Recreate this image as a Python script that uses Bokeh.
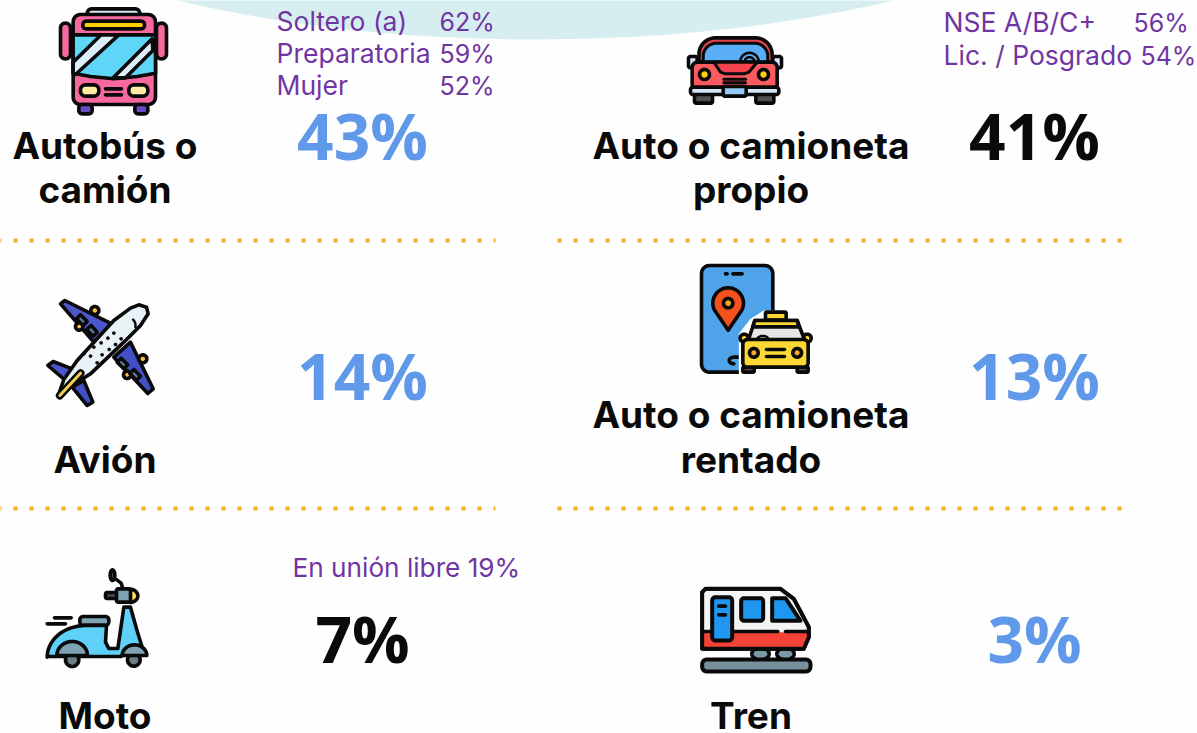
import numpy as np
from bokeh.plotting import figure
from bokeh.models import Range1d
from bokeh.core.properties import value
from bokeh.embed import file_html
from bokeh.resources import INLINE

# ---- data ----
left_cat = ["Autobús o\ncamión", "Avión", "Moto"]
left_pct = ["43%", "14%", "7%"]
right_cat = ["Auto o camioneta\npropio", "Auto o camioneta\nrentado", "Tren"]
right_pct = ["41%", "13%", "3%"]
highlight = {"41%", "7%"}
bus_labels = ["Soltero (a)", "Preparatoria", "Mujer"]
bus_values = ["62%", "59%", "52%"]
car_labels = ["NSE A/B/C+", "Lic. / Posgrado"]
car_values = ["56%", "54%"]
moto_note = "En unión libre 19%"

INK, BLUE, PURPLE, GOLD, TEAL = "#0a0a0a", "#6098ea", "#7135a3", "#f4ae27", "#d6eef0"

p = figure(width=1197, height=733, output_backend="svg", toolbar_location=None,
           x_range=Range1d(0, 1197), y_range=Range1d(733, 0), min_border=0,
           background_fill_color="#fefefe", border_fill_color="#ffffff", outline_line_color=None)
p.axis.visible = False
p.grid.visible = False

O = (0, 0)

def _t(pts):
    a = np.array(pts, dtype=float)
    return list(O[0] + a[:, 0] / 3), list(O[1] + a[:, 1] / 3)

def poly(pts, fill, lw=3.6, lc=INK):
    x, y = _t(pts)
    p.patch(x, y, fill_color=fill, line_color=lc if lw else None, line_width=lw or 1, line_join="round")

def line(pts, lw=3.6, c=INK):
    x, y = _t(pts)
    p.line(x, y, line_color=c, line_width=lw, line_cap="round", line_join="round")

def ell(cx, cy, rx, ry, a0=0, a1=360, n=40):
    t = np.radians(np.linspace(a0, a1, n))
    return list(zip(cx + rx * np.cos(t), cy + ry * np.sin(t)))

def rr(x0, y0, x1, y1, r):
    return (ell(x1 - r, y0 + r, r, r, -90, 0, 8) + ell(x1 - r, y1 - r, r, r, 0, 90, 8)
            + ell(x0 + r, y1 - r, r, r, 90, 180, 8) + ell(x0 + r, y0 + r, r, r, 180, 270, 8))

# ---- backdrop ----
p.ellipse([535], [-200], width=1308, height=478, fill_color=TEAL, line_color=None)

# ---- dotted rules ----
for yy in (240, 508):
    p.line([-3, 495], [yy, yy], line_color=GOLD, line_width=4, line_dash="4 12")
    p.line([557, 1122], [yy, yy], line_color=GOLD, line_width=4, line_dash="4 12")

# ---- bus ----
O = (50, 0)
poly(rr(110, 25, 268, 70, 14), "#d8ebf6")
poly(rr(30, 68, 60, 175, 14), "#f7699e")
poly(rr(318, 68, 348, 175, 14), "#f7699e")
poly(rr(68, 42, 315, 312, 22), "#f7699e")
poly([(68, 103), (315, 103), (315, 218), (260, 228), (190, 235), (120, 228), (68, 218)], "#5fd6f7")
poly([(68, 185), (152, 103), (205, 103), (75, 222), (68, 218)], "#dceefa")
poly([(188, 232), (305, 115), (307, 150), (225, 232)], "#dceefa")
poly(rr(97, 62, 282, 85, 10), "#ffd000")
poly(rr(90, 253, 145, 287, 15), "#ffeaa6")
poly(rr(235, 253, 292, 287, 15), "#ffeaa6")
line([(165, 265), (213, 265)])
line([(165, 283), (213, 283)])
poly(rr(85, 312, 125, 340, 10), "#6a4bc6")
poly(rr(253, 312, 292, 340, 10), "#6a4bc6")

# ---- car ----
O = (680, 30)
poly([(55, 95)] + ell(105, 72, 50, 50, 190, 270, 10) + ell(225, 72, 50, 50, 270, 350, 10) + [(277, 95)], "#e8404f")
poly([(68, 95)] + ell(108, 78, 40, 40, 190, 270, 10) + ell(222, 78, 40, 40, 270, 350, 10) + [(262, 95)], "#5aaef7", 3)
line(ell(207, 95, 28, 28, 180, 360), 2.5)
line(ell(207, 95, 15, 15, 180, 360), 2.5)
poly(rr(24, 78, 50, 112, 6), "#d2e8fb")
poly(rr(277, 78, 303, 112, 6), "#d2e8fb")
poly(rr(35, 95, 290, 180, 16), "#fa5a60")
poly([(100, 95), (230, 95), (205, 125), (190, 130), (135, 130), (120, 125)], "#f4434f", 3)
poly(ell(72, 132, 15, 15), "#ffcf0d")
poly(ell(249, 132, 15, 15), "#ffcf0d")
line([(130, 146), (195, 146)], 3)
line([(130, 157), (195, 157)], 3)
poly(rr(42, 190, 96, 218, 5), "#555058")
poly(rr(226, 190, 280, 218, 5), "#555058")
poly(rr(30, 170, 295, 192, 8), "#d3e6f8")
poly(rr(128, 168, 197, 197, 5), "#93caf8")

# ---- plane ----
O = (30, 285)
poly([(90, 55), (103, 45), (250, 118), (190, 170)], "#4a56c9")
poly([(250, 215), (300, 170), (368, 310), (352, 324)], "#4150c4")
poly([(52, 240), (68, 228), (125, 250), (105, 285)], "#4a56c9")
poly([(125, 305), (160, 285), (187, 350), (170, 360)], "#4150c4")
poly(ell(193, 75, 12, 12), "#f4c542")
poly(ell(146, 123, 11, 11), "#f4c542")
poly(ell(337, 220, 12, 12), "#f4c542")
poly(ell(290, 268, 11, 11), "#f4c542")
poly([(150, 88), (170, 108), (158, 120), (138, 100)], "#5c7fa8")
poly([(182, 120), (200, 140), (188, 152), (168, 132)], "#5c7fa8")
poly([(272, 218), (292, 238), (280, 250), (260, 230)], "#5c7fa8")
poly([(310, 252), (330, 272), (318, 284), (298, 264)], "#5c7fa8")
poly([(348, 65), (325, 58), (300, 68), (250, 105), (140, 225), (100, 282), (85, 325),
      (125, 300), (180, 265), (280, 170), (330, 120), (353, 85)], "#e9f2f6")
line([(88, 330), (150, 263)], 8)
line([(88, 330), (150, 263)], 3, "#f2cf55")
for c in [(250, 143), (232, 158), (212, 172), (190, 185), (272, 160), (255, 177),
          (236, 192), (215, 208), (180, 212), (200, 232), (160, 205)]:
    poly(ell(c[0], c[1], 5.5, 5.5, n=12), INK, 0)
line(ell(290, 120, 25, 25, -45, 10, 10), 2.5)

# ---- phone + taxi ----
O = (685, 255)
poly(rr(48, 30, 262, 350, 24), "#4fa3e8")
line([(120, 55), (125, 55)])
line([(142, 55), (170, 55)])
poly(ell(128, 143, 46, 46, 155, 385) + [(128, 224)], "#f4511e")
poly(ell(128, 143, 14, 14), "#f9a825")
line(ell(145, 315, 14, 10, 90, 270, 10) + [(165, 305)])
poly([(235, 165), (305, 165), (345, 190), (378, 235), (378, 362), (160, 362), (160, 235), (195, 190)], "#ffffff", 0)
poly(rr(240, 170, 302, 194, 3), "#fdd835")
poly(ell(176, 248, 12, 12), "#fdd835")
poly(ell(365, 248, 12, 12), "#fdd835")
poly([(208, 195), (335, 195), (358, 255), (188, 255)], "#e6e6e6")
poly([(208, 195), (335, 195), (340, 214), (202, 214)], "#fdd835")
line(ell(232, 255, 18, 14, 180, 360, 12), 2.5)
poly(rr(172, 335, 206, 350, 3), "#555058")
poly(rr(335, 335, 368, 350, 3), "#555058")
poly(rr(172, 252, 368, 335, 14), "#fdd835")
poly(ell(205, 292, 13, 13), "#f9a825")
poly(ell(335, 292, 13, 13), "#f9a825")
line([(243, 282), (297, 282)])
line([(243, 303), (297, 303)])

# ---- scooter ----
O = (30, 560)
line([(50, 190), (105, 190)])
line([(72, 172), (122, 172)])
poly([(280, 140), (300, 140), (318, 205), (335, 260), (290, 262), (272, 288), (50, 288)]
     + ell(165, 290, 115, 95, 180, 268, 14)
     + [(228, 195), (225, 245), (235, 264), (262, 264)], "#5fd0f7")
poly(rr(148, 168, 235, 194, 10), "#7fa3b5")
poly(ell(125, 298, 20, 20), "#6e7d86")
poly(ell(310, 298, 19, 19), "#6e7d86")
poly(ell(125, 285, 46, 42, 180, 360), "#7fa3b5")
poly(ell(312, 285, 37, 32, 180, 360), "#7fa3b5")
line([(248, 50), (272, 68), (278, 88)])
poly(ell(246, 44, 7, 16), "#4a4f55")
poly(rr(225, 96, 262, 114, 5), "#4a4f55")
poly(ell(298, 106, 24, 20, -90, 90), "#ffd95a")
poly(rr(258, 85, 300, 125, 5), "#7fa3b5")

# ---- train ----
O = (690, 575)
poly(ell(210, 235, 26, 18), "#7b9aa8")
poly(ell(285, 235, 26, 18), "#7b9aa8")
poly([(35, 50), (45, 40), (270, 40), (310, 70), (355, 155), (355, 185), (340, 220), (35, 220)], "#f5f5f5")
poly([(35, 170), (355, 170), (355, 185), (340, 220), (35, 220)], "#f44336", 0)
line([(35, 50), (45, 40), (270, 40), (310, 70), (355, 155), (355, 185), (340, 220), (35, 220), (35, 50)], 4)
line([(35, 168), (262, 168)])
line([(285, 168), (350, 168)])
poly(rr(65, 65, 125, 195, 10), "#1f96f0", 4)
line([(85, 92), (105, 92)])
line([(85, 118), (105, 118)])
poly(rr(152, 68, 218, 136, 9), "#1f96f0", 4)
poly([(245, 68), (285, 68), (330, 136), (245, 136)], "#1f96f0", 4)
poly(rr(35, 252, 360, 288, 14), "#78909c", 4)

# ---- texts ----
def txt(x, y, s, size, color, font, style="normal", align="center"):
    # glyphs sit about 0.39 em below the requested alphabetic baseline in the SVG output
    p.text([x], [y - 0.39 * size], text=[s], text_font=value(font), text_font_size=f"{size}px",
           text_font_style=style, text_color=color, text_align=align, text_baseline="alphabetic")

def label(x, ys, s):
    for yy, part in zip(ys, s.split("\n")):
        txt(x, yy, part, 37, INK, "Inter", "bold")

label(104.5, (159, 203), left_cat[0])
label(104.5, (473,), left_cat[1])
label(104.5, (729,), left_cat[2])
label(750.5, (159, 203), right_cat[0])
label(750.5, (428, 473), right_cat[1])
label(750.5, (729,), right_cat[2])

for x, ys, pcts in ((362, (160, 400, 663), left_pct), (1034, (160, 400, 663), right_pct)):
    for yy, v in zip(ys, pcts):
        txt(x, yy, v, 64, INK if v in highlight else BLUE, "Open Sans", "bold")

for yy, a, b in zip((31, 63, 95), bus_labels, bus_values):
    txt(276, yy, a, 26.5, PURPLE, "Inter", align="left")
    txt(439, yy, b, 25, PURPLE, "Inter", align="left")
for yy, a, b, bx in zip((32, 65), car_labels, car_values, (1133, 1140)):
    txt(943, yy, a, 26.5, PURPLE, "Inter", align="left")
    txt(bx, yy, b, 25, PURPLE, "Inter", align="left")
txt(292, 577, moto_note, 26.2, PURPLE, "Inter", align="left")

open("out.html", "w").write(file_html(p, INLINE))
